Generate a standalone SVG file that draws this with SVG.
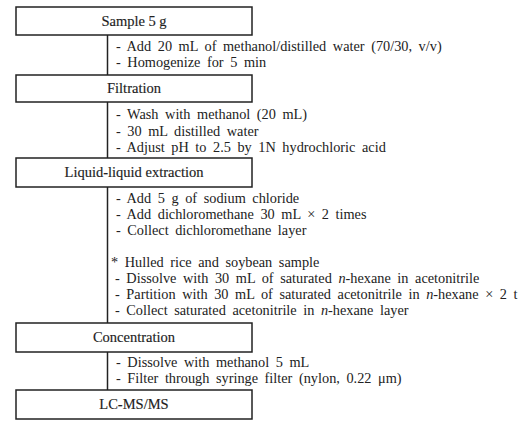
<svg xmlns="http://www.w3.org/2000/svg" width="519" height="422" viewBox="0 0 519 422">
<style>
.box{fill:#fff;stroke:#222;stroke-width:1.5}
.lbl{font-family:"Liberation Serif","DejaVu Serif",serif;font-size:14.5px;fill:#222;stroke:#222;stroke-width:0.15;text-anchor:middle}
.t{font-family:"Liberation Serif","DejaVu Serif",serif;font-size:14.3px;fill:#222;word-spacing:3px}
.c{stroke:#222;stroke-width:1.5;fill:none}
</style>
<rect width="519" height="422" fill="#fff"/>
<g id="connectors">
<line class="c" x1="107.5" y1="35" x2="107.5" y2="75"/>
<line class="c" x1="107.5" y1="102" x2="107.5" y2="158"/>
<line class="c" x1="107.5" y1="187" x2="107.5" y2="323"/>
<line class="c" x1="107.5" y1="352" x2="107.5" y2="390"/>
</g>
<g id="sample"><rect class="box" x="16" y="7" width="236" height="28"/><text class="lbl" x="134" y="26">Sample 5 g</text></g>
<g id="filtration"><rect class="box" x="16" y="75" width="236" height="27"/><text class="lbl" x="134" y="93">Filtration</text></g>
<g id="lle"><rect class="box" x="16" y="158" width="236" height="29"/><text class="lbl" x="134" y="177">Liquid-liquid extraction</text></g>
<g id="concentration"><rect class="box" x="16" y="323" width="236" height="29"/><text class="lbl" x="134" y="342">Concentration</text></g>
<g id="lcms"><rect class="box" x="16" y="390" width="236" height="29"/><text class="lbl" x="134" y="409">LC-MS/MS</text></g>
<g id="notes">
<text class="t" x="116" y="51">- Add 20 mL of methanol/distilled water (70/30, v/v)</text>
<text class="t" x="116" y="67">- Homogenize for 5 min</text>
<text class="t" x="116" y="119">- Wash with methanol (20 mL)</text>
<text class="t" x="116" y="136">- 30 mL distilled water</text>
<text class="t" x="116" y="152">- Adjust pH to 2.5 by 1N hydrochloric acid</text>
<text class="t" x="116" y="203">- Add 5 g of sodium chloride</text>
<text class="t" x="116" y="219">- Add dichloromethane 30 mL × 2 times</text>
<text class="t" x="116" y="235">- Collect dichloromethane layer</text>
<text class="t" x="111" y="267">* Hulled rice and soybean sample</text>
<text class="t" x="115" y="283">- Dissolve with 30 mL of saturated <tspan font-style="italic">n</tspan>-hexane in acetonitrile</text>
<text class="t" x="115" y="299">- Partition with 30 mL of saturated acetonitrile in <tspan font-style="italic">n</tspan>-hexane × 2 t</text>
<text class="t" x="115" y="315">- Collect saturated acetonitrile in <tspan font-style="italic">n</tspan>-hexane layer</text>
<text class="t" x="116" y="367">- Dissolve with methanol 5 mL</text>
<text class="t" x="116" y="383">- Filter through syringe filter (nylon, 0.22 μm)</text>
</g>
</svg>
